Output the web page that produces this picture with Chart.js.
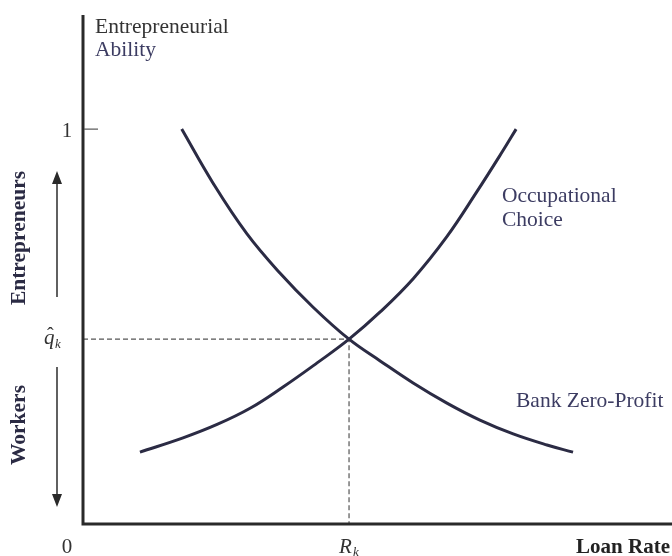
<!DOCTYPE html>
<html>
<head>
<meta charset="utf-8">
<script src="https://cdn.jsdelivr.net/npm/chart.js@4"></script>
<style>
  html, body { margin: 0; padding: 0; background: #fff; }
  #wrap { width: 672px; height: 556px; position: relative; }
</style>
</head>
<body>
<div id="wrap"><canvas id="chart"></canvas></div>
<script>
// Curve points (x: loan rate with R_k = 1, y: entrepreneurial ability)
const bankX = [0.371, 0.489, 0.615, 0.741, 0.865, 1.0, 1.117, 1.241, 1.368, 1.492, 1.617, 1.744, 1.842];
const bankY = [1.0, 0.863, 0.736, 0.635, 0.549, 0.468, 0.413, 0.357, 0.306, 0.263, 0.228, 0.200, 0.182];
const occX = [0.214, 0.376, 0.504, 0.628, 0.752, 0.880, 1.0, 1.117, 1.242, 1.367, 1.480, 1.580, 1.628];
const occY = [0.182, 0.218, 0.252, 0.293, 0.347, 0.408, 0.468, 0.537, 0.622, 0.727, 0.841, 0.947, 1.0];

// Equilibrium point
const rHat = 1;
const qHat = 0.468;
const topTick = 1;

const serif = '"Liberation Serif", "Times New Roman", serif';
const ink = '#2b2b44';
const labelInk = '#3c3c62';

const toPoints = (xs, ys) => xs.map((x, i) => ({ x: x, y: ys[i] }));

// Draws the axes, arrows and all text labels using the chart's scales
const annotations = {
    id: 'annotations',
    afterDatasetsDraw(chart) {
        const { ctx, chartArea: a, scales: { x, y } } = chart;
        ctx.save();

        // axes
        ctx.strokeStyle = '#2a2a2a';
        ctx.lineWidth = 3;
        ctx.beginPath();
        ctx.moveTo(a.left, a.top);
        ctx.lineTo(a.left, a.bottom);
        ctx.lineTo(a.right, a.bottom);
        ctx.stroke();

        // tick at 1
        const y1 = y.getPixelForValue(topTick);
        ctx.lineWidth = 1.2;
        ctx.strokeStyle = '#555';
        ctx.beginPath();
        ctx.moveTo(a.left + 1, y1);
        ctx.lineTo(a.left + 15, y1);
        ctx.stroke();

        // arrows on the left
        const ax = 57;
        ctx.strokeStyle = '#3a3a3a';
        ctx.fillStyle = '#2a2a2a';
        ctx.lineWidth = 1.6;
        ctx.beginPath();
        ctx.moveTo(ax, 297);
        ctx.lineTo(ax, 180);
        ctx.moveTo(ax, 367);
        ctx.lineTo(ax, 498);
        ctx.stroke();
        ctx.beginPath();
        ctx.moveTo(ax, 171);
        ctx.lineTo(ax - 5, 184);
        ctx.lineTo(ax + 5, 184);
        ctx.closePath();
        ctx.moveTo(ax, 507);
        ctx.lineTo(ax - 5, 494);
        ctx.lineTo(ax + 5, 494);
        ctx.closePath();
        ctx.fill();

        // tick labels
        ctx.fillStyle = '#333';
        ctx.font = '21px ' + serif;
        ctx.textAlign = 'center';
        ctx.textBaseline = 'alphabetic';
        ctx.fillText('1', 67, y1 + 8);
        ctx.fillText('0', 67, 553);

        // q-hat label
        const yq = y.getPixelForValue(qHat);
        ctx.font = 'italic 21px ' + serif;
        ctx.textAlign = 'left';
        ctx.fillText('q', 44, yq + 5);
        ctx.font = '20px ' + serif;
        ctx.fillText('\u02C6', 47, yq + 3);
        ctx.font = 'italic 13px ' + serif;
        ctx.fillText('k', 55, yq + 9);

        // R_k label
        const xr = x.getPixelForValue(rHat);
        ctx.font = 'italic 21px ' + serif;
        ctx.fillText('R', xr - 10, 553);
        ctx.font = 'italic 13px ' + serif;
        ctx.fillText('k', xr + 4, 556);

        // axis title on x
        ctx.font = 'bold 21px ' + serif;
        ctx.textAlign = 'right';
        ctx.fillStyle = '#222';
        ctx.fillText('Loan Rate', 670, 553);

        // y axis title
        ctx.textAlign = 'left';
        ctx.font = '21.5px ' + serif;
        ctx.fillStyle = '#333';
        ctx.fillText('Entrepreneurial', 95, 33);
        ctx.fillStyle = labelInk;
        ctx.fillText('Ability', 95, 56);

        // curve labels
        ctx.fillText('Occupational', 502, 202);
        ctx.fillText('Choice', 502, 226);
        ctx.fillText('Bank Zero-Profit', 516, 407);

        // rotated side labels
        ctx.font = 'bold 21.5px ' + serif;
        ctx.fillStyle = ink;
        ctx.textAlign = 'center';
        ctx.textBaseline = 'middle';
        [['Entrepreneurs', 238], ['Workers', 425]].forEach(([t, cy]) => {
            ctx.save();
            ctx.translate(19, cy);
            ctx.rotate(-Math.PI / 2);
            ctx.fillText(t, 0, 0);
            ctx.restore();
        });

        ctx.restore();
    }
};

new Chart(document.getElementById('chart'), {
    type: 'scatter',
    data: {
        datasets: [
            {
                label: 'Bank Zero-Profit',
                data: toPoints(bankX, bankY),
                showLine: true,
                borderColor: ink,
                borderWidth: 3,
                pointRadius: 0,
                tension: 0.4
            },
            {
                label: 'Occupational Choice',
                data: toPoints(occX, occY),
                showLine: true,
                borderColor: ink,
                borderWidth: 3,
                pointRadius: 0,
                tension: 0.4
            },
            {
                label: 'Equilibrium',
                data: [{ x: 0, y: qHat }, { x: rHat, y: qHat }, { x: rHat, y: 0 }],
                showLine: true,
                borderColor: '#555',
                borderWidth: 1.2,
                borderDash: [5, 3],
                pointRadius: 0,
                tension: 0
            }
        ]
    },
    options: {
        responsive: true,
        maintainAspectRatio: false,
        animation: false,
        layout: { padding: { left: 83, right: 0, top: 15, bottom: 32 } },
        plugins: {
            legend: { display: false },
            tooltip: { enabled: false }
        },
        scales: {
            x: { type: 'linear', min: 0, max: 2.214, display: false },
            y: { type: 'linear', min: 0, max: 1.289, display: false }
        }
    },
    plugins: [annotations]
});
</script>
</body>
</html>
